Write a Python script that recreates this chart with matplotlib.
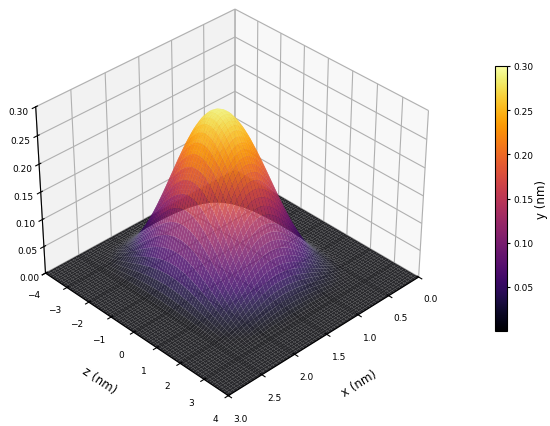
import numpy as np
import matplotlib
matplotlib.use('Agg')
import matplotlib.pyplot as plt
from matplotlib.cm import ScalarMappable
from matplotlib.colors import Normalize

# height along x and along z through the peak
x_nm = [0.00, 0.05, 0.10, 0.15, 0.20, 0.25, 0.30, 0.35, 0.40, 0.45, 0.50, 0.55, 0.60, 0.65, 0.70, 0.75,
        0.80, 0.85, 0.90, 0.95, 1.00, 1.05, 1.10, 1.15, 1.20, 1.25, 1.30, 1.35, 1.40, 1.45, 1.50, 1.55,
        1.60, 1.65, 1.70, 1.75, 1.80, 1.85, 1.90, 1.95, 2.00, 2.05, 2.10, 2.15, 2.20, 2.25, 2.30, 2.35,
        2.40, 2.45, 2.50, 2.55, 2.60, 2.65, 2.70, 2.75, 2.80, 2.85, 2.90, 2.95, 3.00]
x_profile = [0, 0, 0, 0, 0, 0, 0, 0,
             .0043, .017, .038, .067, .103, .146, .196, .25, .309, .371, .435, .5, .565, .629, .691,
             .75, .804, .854, .897, .933, .962, .983, .9957, 1,
             .9938, .9755, .9455, .9045, .8536, .7939, .727, .6545, .5782, .5, .4218, .3455, .273, .2061,
             .1464, .0955, .0545, .0245, .0062, 0,
             0, 0, 0, 0, 0, 0, 0, 0, 0]
z_nm = [-4.0, -3.9, -3.8, -3.7, -3.6, -3.5, -3.4, -3.3, -3.2, -3.1, -3.0, -2.9, -2.8, -2.7, -2.6, -2.5,
        -2.4, -2.3, -2.2, -2.1, -2.0, -1.9, -1.8, -1.7, -1.6, -1.5, -1.4, -1.3, -1.2, -1.1, -1.0, -0.9,
        -0.8, -0.7, -0.6, -0.5, -0.4, -0.3, -0.2, -0.1, 0.0, 0.1, 0.2, 0.3, 0.4, 0.5, 0.6, 0.7,
        0.8, 0.9, 1.0, 1.1, 1.2, 1.3, 1.4, 1.5, 1.6, 1.7, 1.8, 1.9, 2.0, 2.1, 2.2, 2.3,
        2.4, 2.5, 2.6, 2.7, 2.8, 2.9, 3.0, 3.1, 3.2, 3.3, 3.4, 3.5, 3.6, 3.7, 3.8, 3.9, 4.0]
z_profile = [0, 0, 0,
             .0021, .0085, .0191, .0338, .0524, .0749, .101, .1305, .1631, .1987, .2368, .2771, .3194, .3632,
             .4081, .4539, .5, .5461, .5919, .6368, .6806, .7229, .7632, .8013, .8369, .8695, .899, .9251,
             .9476, .9662, .9809, .9915, .9979, 1,
             .9979, .9915, .9809, .9662, .9476, .9251, .899, .8695, .8369, .8013, .7632, .7229, .6806,
             .6368, .5919, .5461, .5, .4539, .4081, .3632, .3194, .2771, .2368, .1987, .1631, .1305,
             .101, .0749, .0524, .0338, .0191, .0085, .0021, 0,
             0, 0, 0, 0, 0, 0, 0, 0, 0, 0]
y_peak = 0.29

x_ticks = [0.0, 0.5, 1.0, 1.5, 2.0, 2.5, 3.0]
z_ticks = [-4, -3, -2, -1, 0, 1, 2, 3, 4]
y_ticks = [0.00, 0.05, 0.10, 0.15, 0.20, 0.25, 0.30]
cbar_ticks = [0.05, 0.10, 0.15, 0.20, 0.25, 0.30]

X, Z = np.meshgrid(x_nm, z_nm, indexing='ij')
Y = y_peak * np.outer(x_profile, z_profile)

fig = plt.figure(figsize=(5.5, 4.27), dpi=100)
ax = fig.add_axes([0.0247, 0.0375, 0.773, 0.985], projection='3d')
ax.plot_surface(X, Z, Y, cmap='inferno', vmin=0, vmax=0.3, alpha=0.83,
                rstride=1, cstride=1, linewidth=0, antialiased=True)
ax.view_init(elev=35, azim=46)
ax.set_xlim(0, 3)
ax.set_ylim(-4, 4)
ax.set_zlim(0, 0.3)
ax.set_xticks(x_ticks)
ax.set_yticks(z_ticks)
ax.set_zticks(y_ticks)
ax.tick_params(labelsize=6.5, pad=2)
ax.tick_params(axis='z', pad=-1)
ax.set_xlabel('x (nm)', fontsize=8.5, labelpad=6)
ax.set_ylabel('z (nm)', fontsize=8.5, labelpad=6)

cax = fig.add_axes([495 / 550, 1 - 332 / 427, 12 / 550, 265 / 427])
cb = fig.colorbar(ScalarMappable(Normalize(0, 0.3), 'inferno'), cax=cax)
cb.set_ticks(cbar_ticks)
cb.ax.tick_params(labelsize=6.5, length=2.5, pad=2)
cb.set_label('y (nm)', fontsize=8.5, labelpad=1)

fig.savefig('out.png', dpi=100)
